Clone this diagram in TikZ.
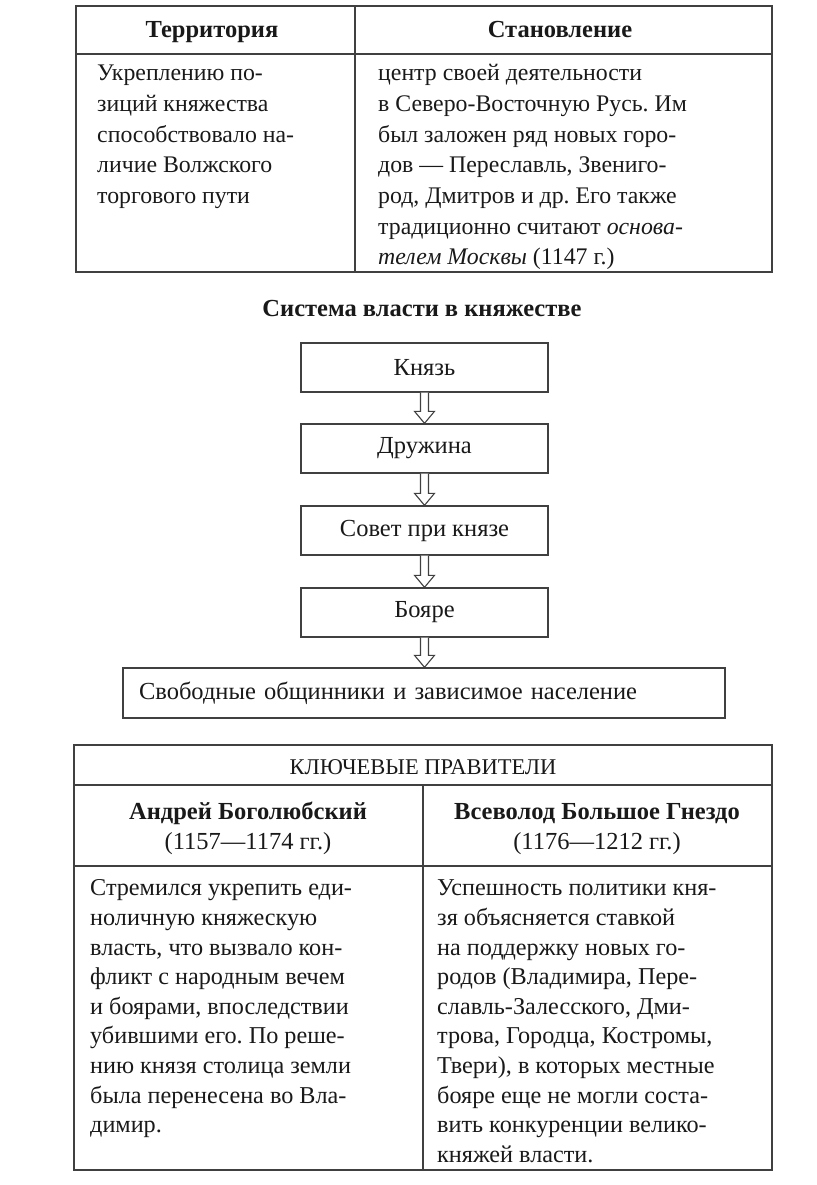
\documentclass[tikz,border=0pt]{standalone}
\usepackage{fontspec}
\setmainfont{Liberation Serif}
\usetikzlibrary{calc}
\frenchspacing

\newcommand\topsize{\fontsize{23.8}{30.7}\selectfont}
\newcommand\lowsize{\fontsize{24.2}{29.6}\selectfont}
% hollow down arrow from one box to the next
\newcommand\hollowdown[2]{%
  \draw[flowarrow] let \p1=(#1.south), \p2=(#2.north) in
    (\x1-4pt,\y1) -- (\x1-4pt,\y2+12pt) -- (\x1-10pt,\y2+12pt) -- (\x1,\y2)
    -- (\x1+10pt,\y2+12pt) -- (\x1+4pt,\y2+12pt) -- (\x1+4pt,\y1);}

\begin{document}
\begin{tikzpicture}[x=1pt, y=-1pt,
  frame/.style={line width=1.6pt, draw=black!75},
  cell/.style={anchor=north west, align=left, inner sep=0pt, text=black!90},
  headcell/.style={anchor=base, inner sep=0pt, text=black!90, font=\fontsize{24.5}{30}\selectfont\bfseries},
  namecell/.style={anchor=north, align=center, inner sep=0pt, text=black!90, font=\fontsize{24.5}{30}\selectfont},
  powerbox/.style={draw=black!75, line width=1.4pt, minimum width=247pt, minimum height=49pt,
    inner sep=0pt, text=black!90, font=\fontsize{24.5}{30}\selectfont},
  flowarrow/.style={draw=black!75, line width=1.1pt, fill=white, line join=miter}]
\useasboundingbox (0,0) rectangle (816,1185);

% top table: territory and rise
\draw[frame] (76,6) rectangle (772,272);
\draw[frame] (76,54) -- (772,54);
\draw[frame] (355,6) -- (355,272);
\node[headcell] (terrhead) at (212,38) {Территория};
\node[headcell] (risehead) at (560,38) {Становление};
\node[cell, font=\topsize] (terrtext) at (97,59) {\strut Укреплению по-\\зиций княжества\\способствовало на-\\личие Волжского\\торгового пути};
\node[cell, font=\topsize] (risetext) at (378,59) {\strut центр своей деятельности\\в Северо-Восточную Русь. Им\\был заложен ряд новых горо-\\дов — Переславль, Звениго-\\род, Дмитров и др. Его также\\традиционно считают \textit{основа-}\\\textit{телем Москвы} (1147 г.)};

% system of power
\node[headcell] (powertitle) at (422,316) {Система власти в княжестве};
\node[powerbox] (prince) at (424.5,367.5) {Князь};
\node[powerbox] (retinue) at (424.5,448.5) {Дружина};
\node[powerbox] (council) at (424.5,530.5) {Совет при князе};
\node[powerbox] (boyars) at (424.5,612.5) {Бояре};
\node[powerbox, minimum width=602pt, minimum height=50pt, text width=570pt, align=left]
  (people) at (424,693) {Свободные общинники и зависимое население};
\hollowdown{prince}{retinue}
\hollowdown{retinue}{council}
\hollowdown{council}{boyars}
\hollowdown{boyars}{people}

% bottom table: key rulers
\draw[frame] (74,745) rectangle (772,1170);
\draw[frame] (74,785) -- (772,785);
\draw[frame] (74,866) -- (772,866);
\draw[frame] (423,785) -- (423,1170);
\node[headcell, font=\fontsize{22.5}{24}\selectfont] (rulershead) at (423,774) {КЛЮЧЕВЫЕ ПРАВИТЕЛИ};
\node[namecell] (andrei) at (248,798) {\strut\textbf{Андрей Боголюбский}\\(1157—1174 гг.)};
\node[namecell] (vsevolod) at (597,798) {\strut\textbf{Всеволод Большое Гнездо}\\(1176—1212 гг.)};
\node[cell, font=\lowsize] (andreitext) at (90,875) {\strut Стремился укрепить еди-\\ноличную княжескую\\власть, что вызвало кон-\\фликт с народным вечем\\и боярами, впоследствии\\убившими его. По реше-\\нию князя столица земли\\была перенесена во Вла-\\димир.};
\node[cell, font=\lowsize] (vsevolodtext) at (437,875) {\strut Успешность политики кня-\\зя объясняется ставкой\\на поддержку новых го-\\родов (Владимира, Пере-\\славль-Залесского, Дми-\\трова, Городца, Костромы,\\Твери), в которых местные\\бояре еще не могли соста-\\вить конкуренции велико-\\княжей власти.};
\end{tikzpicture}
\end{document}
